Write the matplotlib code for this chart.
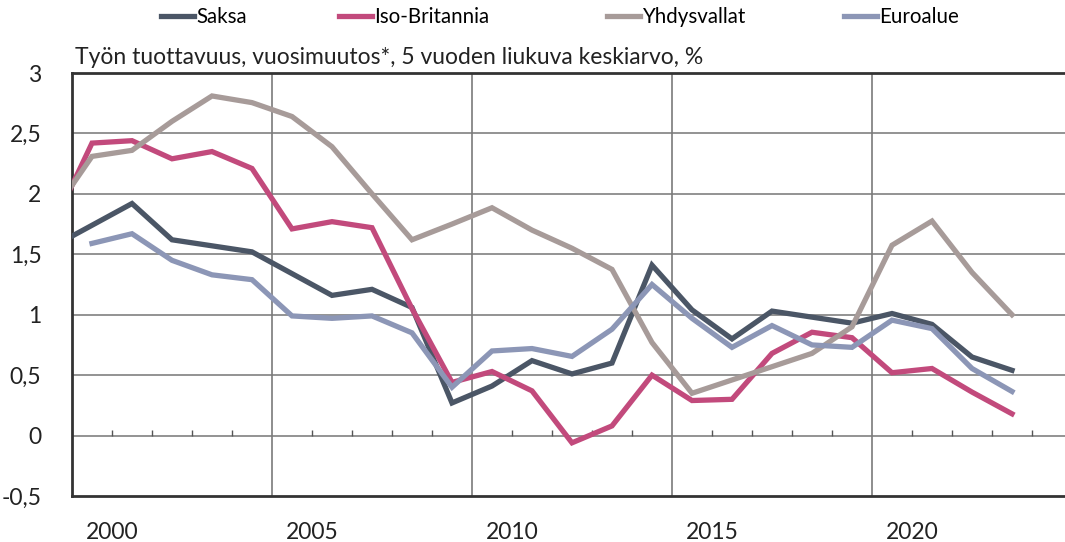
import matplotlib
matplotlib.use("Agg")
import matplotlib.pyplot as plt
import numpy as np

plt.rcParams['font.family'] = ['Lato', 'DejaVu Sans']

# annual values, 5-year moving average of labour productivity growth, %
years = np.arange(1998, 2023)
saksa = [1.56, 1.74, 1.92, 1.62, 1.57, 1.52, 1.34, 1.16, 1.21, 1.06, 0.27, 0.41, 0.62,
         0.51, 0.60, 1.41, 1.04, 0.80, 1.03, 0.98, 0.93, 1.01, 0.92, 0.65, 0.54]
iso_britannia = [1.72, 2.42, 2.44, 2.29, 2.35, 2.21, 1.71, 1.77, 1.72, 1.05, 0.44, 0.53, 0.37,
                 -0.06, 0.08, 0.50, 0.29, 0.30, 0.68, 0.855, 0.81, 0.52, 0.555, 0.36, 0.18]
yhdysvallat = [1.83, 2.31, 2.36, 2.60, 2.81, 2.755, 2.64, 2.39, 2.00, 1.62, 1.75, 1.885, 1.70,
               1.55, 1.375, 0.77, 0.35, 0.46, 0.57, 0.68, 0.90, 1.575, 1.775, 1.35, 1.00]
euroalue = [np.nan, 1.59, 1.67, 1.45, 1.33, 1.29, 0.99, 0.97, 0.99, 0.85, 0.40, 0.70, 0.72,
            0.655, 0.88, 1.25, 0.97, 0.73, 0.91, 0.75, 0.73, 0.955, 0.885, 0.555, 0.365]

names = ['Saksa', 'Iso-Britannia', 'Yhdysvallat', 'Euroalue']
colors = ['#4b5666', '#c24a7c', '#a79b99', '#8c96b6']
series = [saksa, iso_britannia, yhdysvallat, euroalue]

label_years = [2000, 2005, 2010, 2015, 2020]
yticks = [-0.5, 0, 0.5, 1, 1.5, 2, 2.5, 3]
ytick_labels = ['-0,5', '0', '0,5', '1', '1,5', '2', '2,5', '3']

fig = plt.figure(figsize=(10.65, 5.42), dpi=100)
ax = fig.add_axes([72 / 1065, 1 - 496 / 542, 1 - 72 / 1065, (496 - 73) / 542])

x = years + 0.5
lines = []
for vals, c, n in zip(series, colors, names):
    ln, = ax.plot(x, vals, color=c, lw=3.8, label=n, solid_joinstyle='miter', zorder=3)
    lines.append(ln)

ax.set_xlim(1999, 1999 + (1065 - 72) / 40)
ax.set_ylim(-0.5, 3)

# horizontal grid
for v in yticks[1:]:
    ax.axhline(v, color='#8a8a8a', lw=1.3, zorder=1)
# vertical grid every 5 categories
for g in range(2004, 2024, 5):
    ax.axvline(g, color='#7a7a7a', lw=1.2, zorder=1)
# small ticks on the zero line
minor = [yr for yr in range(2000, 2024) if (yr - 2004) % 5 != 0]
ax.vlines(minor, 0, 0.05, color='#555555', lw=1.0, zorder=2)

ax.set_yticks(yticks)
ax.set_yticklabels(ytick_labels)
ax.set_xticks(label_years)
ax.set_xticklabels([str(y) for y in label_years])
ax.tick_params(axis='both', length=0, labelsize=16.5, colors='#222222')
ax.tick_params(axis='y', pad=22)
ax.tick_params(axis='x', pad=19)

for s in ['left', 'bottom', 'top']:
    ax.spines[s].set_color('#333333')
    ax.spines[s].set_linewidth(2.0)
ax.spines['right'].set_visible(False)

fig.text(75 / 1065, 1 - 57 / 542,
         'Työn tuottavuus, vuosimuutos*, 5 vuoden liukuva keskiarvo, %',
         fontsize=16.5, va='center', ha='left', color='#222222')

leg_x = [161, 339, 607, 844]
for ln, lx in zip(lines, leg_x):
    fig.legend(handles=[ln], loc='center left', bbox_to_anchor=(lx / 1065, 1 - 17 / 542),
               frameon=False, fontsize=14.8, handlelength=1.6, handletextpad=0.12,
               borderpad=0, borderaxespad=0)

fig.savefig('out.png', dpi=100)
